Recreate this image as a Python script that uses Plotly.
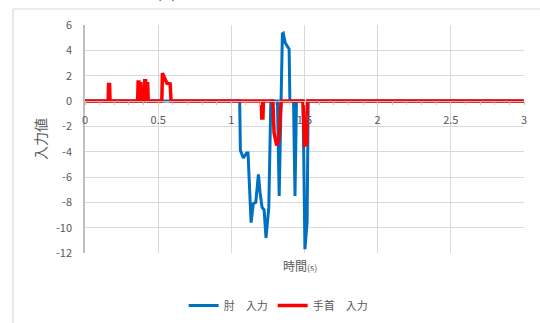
import plotly.graph_objects as go

# Elbow input (肘 入力): time [s] and value at each breakpoint
elbow_t = [0.0, 1.057, 1.062, 1.082, 1.105, 1.114, 1.135, 1.150, 1.167, 1.185,
           1.196, 1.210, 1.224, 1.237, 1.256, 1.270, 1.315, 1.327, 1.349, 1.355,
           1.368, 1.395, 1.400, 1.425, 1.435, 1.445, 1.490, 1.503, 1.518, 1.525,
           3.0]
elbow_v = [0.0, 0.0, -3.9, -4.5, -4.1, -4.1, -9.6, -8.1, -8.0, -5.8,
           -7.2, -8.4, -8.6, -10.8, -8.4, 0.0, 0.0, -7.5, 5.3, 5.35,
           4.6, 4.1, 0.0, 0.0, -7.5, 0.0, 0.0, -11.7, -9.5, 0.0,
           0.0]

# Wrist input (手首 入力)
wrist_t = [0.0, 0.158, 0.161, 0.168, 0.171,
           0.360, 0.363, 0.368, 0.371, 0.377, 0.381, 0.386,
           0.404, 0.408, 0.414, 0.418, 0.423, 0.428, 0.432,
           0.525, 0.529, 0.534, 0.548, 0.560, 0.582, 0.588,
           1.205, 1.208, 1.216, 1.219,
           1.284, 1.292, 1.310, 1.325, 1.340,
           1.490, 1.500, 1.515, 1.520, 3.0]
wrist_v = [0.0, 0.0, 1.3, 1.3, 0.0,
           0.0, 1.5, 1.5, 0.0, 1.5, 1.5, 0.0,
           0.0, 1.6, 1.6, 0.0, 1.5, 1.5, 0.0,
           0.0, 2.2, 2.1, 1.7, 1.4, 1.35, 0.0,
           0.0, -1.35, -1.35, 0.0,
           0.0, -2.5, -3.5, -3.0, 0.0,
           0.0, -3.5, -3.4, 0.0, 0.0]

x_ticks = [0, 0.5, 1, 1.5, 2, 2.5, 3]
x_labels = ["0", "0.5", "1", "1.5", "2", "2.5", "3"]
y_ticks = [6, 4, 2, 0, -2, -4, -6, -8, -10, -12]
y_labels = ["6", "4", "2", "0", "-2", "-4", "-6", "-8", "-10", "-12"]

FONT = "Noto Sans CJK JP"
GRID = "#d9d9d9"
TXT = "#595959"

fig = go.Figure()
fig.add_trace(go.Scatter(x=elbow_t, y=elbow_v, mode="lines", name="肘　入力",
                         line=dict(color="#0070C0", width=3)))
fig.add_trace(go.Scatter(x=wrist_t, y=wrist_v, mode="lines", name="手首　入力",
                         line=dict(color="#FF0000", width=3.5)))

fig.update_layout(
    width=540, height=323,
    margin=dict(l=85, r=16, t=25, b=70, autoexpand=False),
    paper_bgcolor="white", plot_bgcolor="white",
    font=dict(family=FONT, color=TXT, size=11),
    showlegend=True,
    legend=dict(orientation="h", x=0.44, xanchor="center", y=-0.23, yanchor="middle",
                font=dict(size=11, color=TXT), itemwidth=30,
                bgcolor="rgba(0,0,0,0)"),
    xaxis=dict(range=[0, 3], tickvals=x_ticks, ticktext=x_labels,
               showgrid=True, gridcolor=GRID, gridwidth=1.3,
               zeroline=False, showline=True, linecolor="#bfbfbf", linewidth=1,
               anchor="free", position=12 / 18, side="bottom",
               ticks="outside", ticklen=3, tickcolor="#bfbfbf",
               minor=dict(dtick=0.1, ticks="outside", ticklen=3, tickcolor="#bfbfbf"),
               tickfont=dict(size=11, color=TXT), ticklabelstandoff=6),
    yaxis=dict(range=[-12, 6], tickvals=y_ticks, ticktext=y_labels,
               showgrid=True, gridcolor=GRID, gridwidth=1.3,
               zeroline=False, showline=True, linecolor="#bfbfbf", linewidth=1.6,
               ticks="", tickfont=dict(size=11, color=TXT), ticklabelstandoff=9,
               title=dict(text="入力値", standoff=6,
                          font=dict(size=14, color=TXT, family=FONT))),
)

# Chart frame: left and top edges of the chart area
fig.add_shape(type="line", xref="paper", yref="paper",
              x0=(13 - 85) / 439, x1=(13 - 85) / 439, y0=-0.5, y1=(253 - 9) / 228,
              line=dict(color=GRID, width=1.2))
fig.add_shape(type="line", xref="paper", yref="paper",
              x0=(13 - 85) / 439, x1=1.2, y0=(253 - 9) / 228, y1=(253 - 9) / 228,
              line=dict(color=GRID, width=1.2))

# Chart title (sits above the frame)
fig.add_annotation(text="(a) 肘関節　　　　入力値変化", xref="paper", yref="paper",
                   x=(270 - 85) / 439, y=(253 - 5.5) / 228, xanchor="center", yanchor="bottom",
                   showarrow=False, font=dict(size=17, color=TXT, family=FONT))

# X axis title
fig.add_annotation(text="時間<span style='font-size:9px'>(s)</span>", xref="paper", yref="paper",
                   x=0.49, y=-12 / 228, xanchor="center", yanchor="middle",
                   showarrow=False, font=dict(size=12, color=TXT, family=FONT))

fig.write_html("out.html")
